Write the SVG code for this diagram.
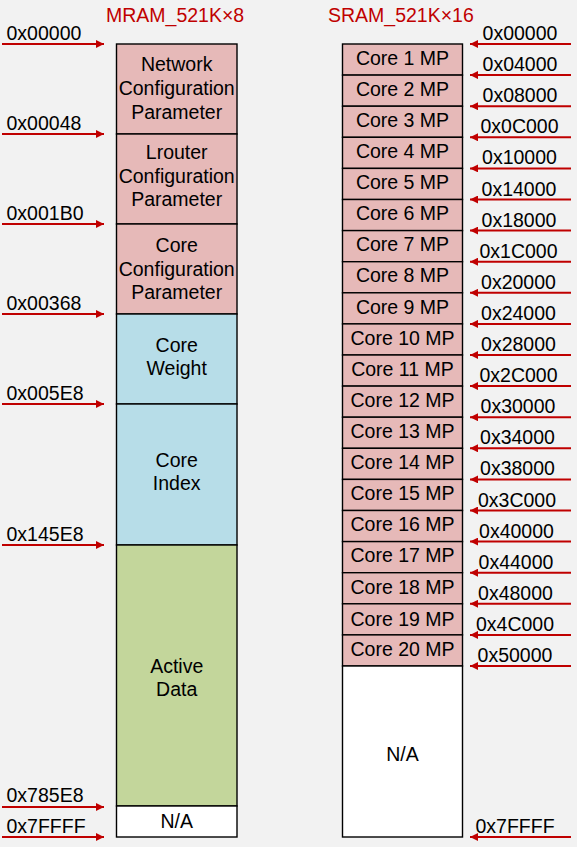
<svg xmlns="http://www.w3.org/2000/svg" width="577" height="847" viewBox="0 0 577 847">
<defs>
<style>
text{font-family:"Liberation Sans",Arial,sans-serif;font-size:19.5px;fill:#000}
.t{fill:#C00000}
.c{text-anchor:middle}
.cell{stroke:#000;stroke-width:1.4}
.pink{fill:#E6B9B8}
.blue{fill:#B7DDE8}
.green{fill:#C3D69B}
.white{fill:#FFFFFF}
.arr{stroke:#C00000;stroke-width:2;fill:none}
</style>
<marker id="ah" markerUnits="userSpaceOnUse" markerWidth="10" markerHeight="8" refX="8" refY="4" orient="auto">
<path d="M0,0 L8,4 L0,8 Z" fill="#C00000"/>
</marker>
</defs>
<rect x="0" y="0" width="577" height="847" fill="#F2F2F2"/>
<text class="t" x="106" y="22">MRAM_521K×8</text>
<text class="t" x="328" y="22">SRAM_521K×16</text>

<g id="mram">
<g id="m-net"><rect class="cell pink" x="116.5" y="44" width="120.5" height="90"/><text class="c" x="176.7" y="71">Network</text><text class="c" x="176.7" y="95">Configuration</text><text class="c" x="176.7" y="119">Parameter</text></g>
<g id="m-lrouter"><rect class="cell pink" x="116.5" y="134" width="120.5" height="90"/><text class="c" x="176.7" y="158.5">Lrouter</text><text class="c" x="176.7" y="182.5">Configuration</text><text class="c" x="176.7" y="206">Parameter</text></g>
<g id="m-core"><rect class="cell pink" x="116.5" y="224" width="120.5" height="90"/><text class="c" x="176.7" y="251.5">Core</text><text class="c" x="176.7" y="275.5">Configuration</text><text class="c" x="176.7" y="299">Parameter</text></g>
<g id="m-weight"><rect class="cell blue" x="116.5" y="314" width="120.5" height="90"/><text class="c" x="176.7" y="352">Core</text><text class="c" x="176.7" y="375">Weight</text></g>
<g id="m-index"><rect class="cell blue" x="116.5" y="404" width="120.5" height="141"/><text class="c" x="176.7" y="467">Core</text><text class="c" x="176.7" y="490">Index</text></g>
<g id="m-active"><rect class="cell green" x="116.5" y="545" width="120.5" height="261"/><text class="c" x="176.7" y="673">Active</text><text class="c" x="176.7" y="696">Data</text></g>
<g id="m-na"><rect class="cell white" x="116.5" y="806" width="120.5" height="31"/><text class="c" x="176.7" y="828">N/A</text></g>
</g>

<g id="sram">
<g id="s1"><rect class="cell pink" x="342.5" y="44" width="120" height="31.1"/><text class="c" x="402.5" y="64.5">Core 1 MP</text></g>
<g id="s2"><rect class="cell pink" x="342.5" y="75.1" width="120" height="31.1"/><text class="c" x="402.5" y="95.6">Core 2 MP</text></g>
<g id="s3"><rect class="cell pink" x="342.5" y="106.2" width="120" height="31.1"/><text class="c" x="402.5" y="126.7">Core 3 MP</text></g>
<g id="s4"><rect class="cell pink" x="342.5" y="137.3" width="120" height="31.1"/><text class="c" x="402.5" y="157.8">Core 4 MP</text></g>
<g id="s5"><rect class="cell pink" x="342.5" y="168.4" width="120" height="31.1"/><text class="c" x="402.5" y="188.9">Core 5 MP</text></g>
<g id="s6"><rect class="cell pink" x="342.5" y="199.5" width="120" height="31.1"/><text class="c" x="402.5" y="220">Core 6 MP</text></g>
<g id="s7"><rect class="cell pink" x="342.5" y="230.6" width="120" height="31.1"/><text class="c" x="402.5" y="251.1">Core 7 MP</text></g>
<g id="s8"><rect class="cell pink" x="342.5" y="261.7" width="120" height="31.1"/><text class="c" x="402.5" y="282.2">Core 8 MP</text></g>
<g id="s9"><rect class="cell pink" x="342.5" y="292.8" width="120" height="31.1"/><text class="c" x="402.5" y="313.5">Core 9 MP</text></g>
<g id="s10"><rect class="cell pink" x="342.5" y="323.9" width="120" height="31.1"/><text class="c" x="402.5" y="344.6">Core 10 MP</text></g>
<g id="s11"><rect class="cell pink" x="342.5" y="355" width="120" height="31.1"/><text class="c" x="402.5" y="375.7">Core 11 MP</text></g>
<g id="s12"><rect class="cell pink" x="342.5" y="386.1" width="120" height="31.1"/><text class="c" x="402.5" y="406.8">Core 12 MP</text></g>
<g id="s13"><rect class="cell pink" x="342.5" y="417.2" width="120" height="31.1"/><text class="c" x="402.5" y="437.9">Core 13 MP</text></g>
<g id="s14"><rect class="cell pink" x="342.5" y="448.3" width="120" height="31.1"/><text class="c" x="402.5" y="469">Core 14 MP</text></g>
<g id="s15"><rect class="cell pink" x="342.5" y="479.4" width="120" height="31.1"/><text class="c" x="402.5" y="500.1">Core 15 MP</text></g>
<g id="s16"><rect class="cell pink" x="342.5" y="510.5" width="120" height="31.1"/><text class="c" x="402.5" y="531.2">Core 16 MP</text></g>
<g id="s17"><rect class="cell pink" x="342.5" y="541.6" width="120" height="31.1"/><text class="c" x="402.5" y="562.3">Core 17 MP</text></g>
<g id="s18"><rect class="cell pink" x="342.5" y="572.7" width="120" height="31.1"/><text class="c" x="402.5" y="594">Core 18 MP</text></g>
<g id="s19"><rect class="cell pink" x="342.5" y="603.8" width="120" height="31.1"/><text class="c" x="402.5" y="625.5">Core 19 MP</text></g>
<g id="s20"><rect class="cell pink" x="342.5" y="634.9" width="120" height="31.1"/><text class="c" x="402.5" y="655.5">Core 20 MP</text></g>
<g id="s-na"><rect class="cell white" x="342.5" y="666" width="120" height="171"/><text class="c" x="402.5" y="761">N/A</text></g>
</g>

<g id="connectors">
<path class="arr" marker-end="url(#ah)" d="M2,44H104"/>
<path class="arr" marker-end="url(#ah)" d="M2,134H104"/>
<path class="arr" marker-end="url(#ah)" d="M2,224H104"/>
<path class="arr" marker-end="url(#ah)" d="M2,314H104"/>
<path class="arr" marker-end="url(#ah)" d="M2,404H104"/>
<path class="arr" marker-end="url(#ah)" d="M2,545H104"/>
<path class="arr" marker-end="url(#ah)" d="M2,807H104"/>
<path class="arr" marker-end="url(#ah)" d="M2,837H104"/>
<path class="arr" marker-end="url(#ah)" d="M571,44H470"/>
<path class="arr" marker-end="url(#ah)" d="M571,75.1H470"/>
<path class="arr" marker-end="url(#ah)" d="M571,106.2H470"/>
<path class="arr" marker-end="url(#ah)" d="M571,137.3H470"/>
<path class="arr" marker-end="url(#ah)" d="M571,168.4H470"/>
<path class="arr" marker-end="url(#ah)" d="M571,199.5H470"/>
<path class="arr" marker-end="url(#ah)" d="M571,230.6H470"/>
<path class="arr" marker-end="url(#ah)" d="M571,261.7H470"/>
<path class="arr" marker-end="url(#ah)" d="M571,292.8H470"/>
<path class="arr" marker-end="url(#ah)" d="M571,323.9H470"/>
<path class="arr" marker-end="url(#ah)" d="M571,355H470"/>
<path class="arr" marker-end="url(#ah)" d="M571,386.1H470"/>
<path class="arr" marker-end="url(#ah)" d="M571,417.2H470"/>
<path class="arr" marker-end="url(#ah)" d="M571,448.3H470"/>
<path class="arr" marker-end="url(#ah)" d="M571,479.4H470"/>
<path class="arr" marker-end="url(#ah)" d="M571,510.5H470"/>
<path class="arr" marker-end="url(#ah)" d="M571,541.6H470"/>
<path class="arr" marker-end="url(#ah)" d="M571,572.7H470"/>
<path class="arr" marker-end="url(#ah)" d="M571,603.8H470"/>
<path class="arr" marker-end="url(#ah)" d="M571,634.9H470"/>
<path class="arr" marker-end="url(#ah)" d="M571,666H470"/>
<path class="arr" marker-end="url(#ah)" d="M571,837H470"/>
</g>

<g id="addr-left">
<text x="6.5" y="40">0x00000</text>
<text x="6.5" y="130">0x00048</text>
<text x="6.5" y="220">0x001B0</text>
<text x="6.5" y="310">0x00368</text>
<text x="6.5" y="400">0x005E8</text>
<text x="6.5" y="541">0x145E8</text>
<text x="6.5" y="802">0x785E8</text>
<text x="6.5" y="833">0x7FFFF</text>
</g>
<g id="addr-right">
<text class="c" x="520" y="40">0x00000</text>
<text class="c" x="520" y="71.1">0x04000</text>
<text class="c" x="520" y="102.2">0x08000</text>
<text class="c" x="519.5" y="133.3">0x0C000</text>
<text class="c" x="519.5" y="164.4">0x10000</text>
<text class="c" x="519" y="195.5">0x14000</text>
<text class="c" x="519" y="226.6">0x18000</text>
<text class="c" x="518.5" y="257.7">0x1C000</text>
<text class="c" x="518.5" y="288.8">0x20000</text>
<text class="c" x="518.5" y="319.9">0x24000</text>
<text class="c" x="518.5" y="351">0x28000</text>
<text class="c" x="518.5" y="382.1">0x2C000</text>
<text class="c" x="518" y="413.2">0x30000</text>
<text class="c" x="517.5" y="444.3">0x34000</text>
<text class="c" x="517.5" y="475.4">0x38000</text>
<text class="c" x="517" y="506.5">0x3C000</text>
<text class="c" x="516.5" y="537.6">0x40000</text>
<text class="c" x="516" y="568.7">0x44000</text>
<text class="c" x="515.5" y="599.8">0x48000</text>
<text class="c" x="515" y="630.9">0x4C000</text>
<text class="c" x="515" y="662">0x50000</text>
<text class="c" x="515" y="833">0x7FFFF</text>
</g>
</svg>
